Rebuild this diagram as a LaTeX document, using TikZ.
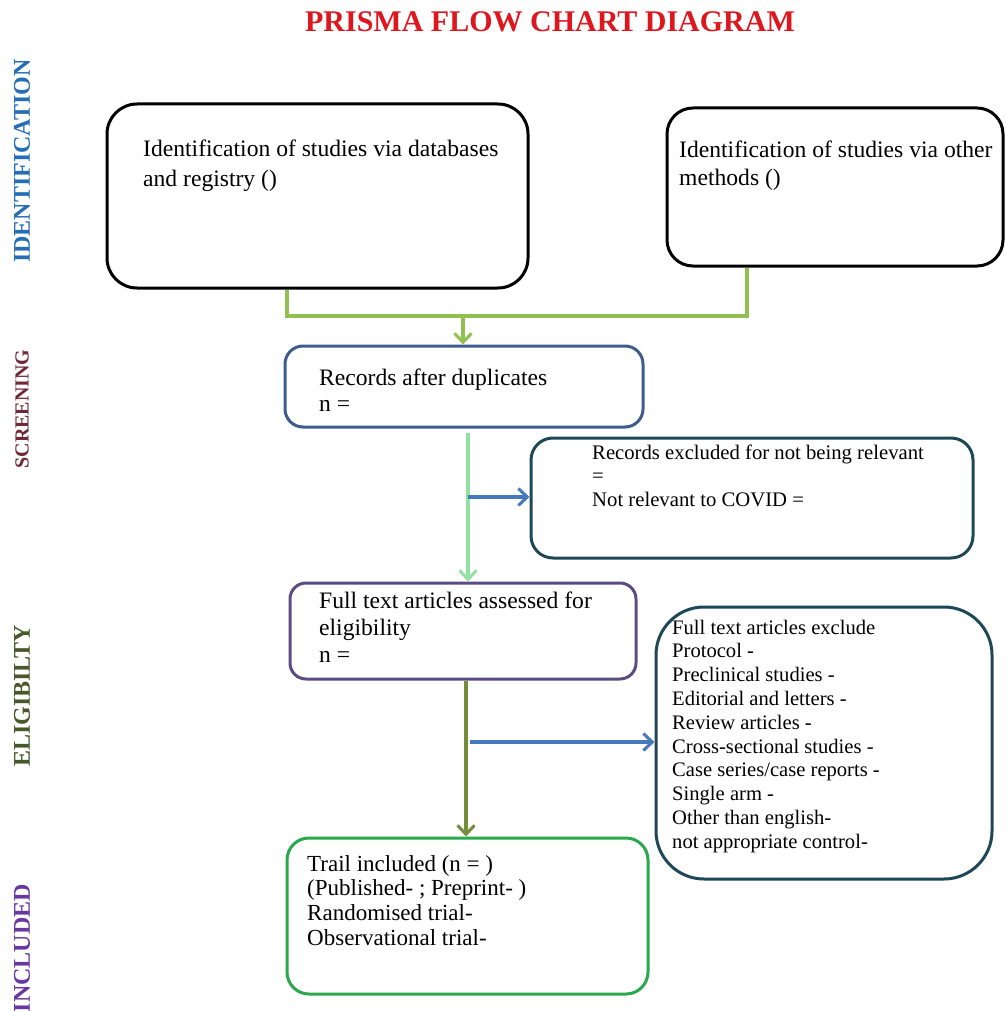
\documentclass[tikz,border=0pt]{standalone}
\usepackage{fontspec}
\setmainfont{Liberation Serif}
\usetikzlibrary{arrows.meta}
\definecolor{titlered}{RGB}{222,22,30}
\definecolor{labblue}{RGB}{38,110,180}
\definecolor{labmaroon}{RGB}{110,40,55}
\definecolor{labolive}{RGB}{72,88,40}
\definecolor{labpurple}{RGB}{105,55,160}
\definecolor{gconn}{RGB}{146,192,80}
\definecolor{mint}{RGB}{146,224,162}
\definecolor{barrow}{RGB}{70,120,190}
\definecolor{oarrow}{RGB}{115,142,58}
\definecolor{sblue}{RGB}{62,92,140}
\definecolor{steal}{RGB}{30,72,88}
\definecolor{spurple}{RGB}{92,76,132}
\definecolor{sgreen}{RGB}{42,168,76}
\begin{document}
\begin{tikzpicture}[x=1pt,y=-1pt,
  box/.style={draw, line width=3pt, inner sep=0pt},
  txt/.style={inner sep=0pt, anchor=base west, text=black},
  side/.style={rotate=90, inner sep=0pt, font=\fontsize{24}{28}\selectfont\bfseries},
  conn/.style={line width=3.2pt},
  tip/.style={-{Straight Barb[length=9pt,width=17pt,line width=3pt]}}
]
\useasboundingbox (0,0) rectangle (1005,1011);

% title
\node[inner sep=0pt, text=titlered, font=\fontsize{30}{34}\selectfont\bfseries] (title) at (550,22) {PRISMA FLOW CHART DIAGRAM};

% side labels
\node[side, text=labblue] (lid) at (22,161) {IDENTIFICATION};
\node[side, text=labmaroon, font=\fontsize{20}{24}\selectfont\bfseries] (lsc) at (22,409) {SCREENING};
\node[side, text=labolive] (lel) at (22,696) {ELIGIBILTY};
\node[side, text=labpurple] (lin) at (22,948) {INCLUDED};

% boxes
\node[box, draw=black, rounded corners=30pt, minimum width=421pt, minimum height=184pt] (b1) at (317.5,196) {};
\node[box, draw=black, rounded corners=26pt, minimum width=336pt, minimum height=158pt] (b2) at (835,187) {};
\node[box, draw=sblue, rounded corners=18pt, minimum width=358pt, minimum height=81pt] (b3) at (464,386.5) {};
\node[box, draw=steal, rounded corners=22pt, minimum width=442pt, minimum height=120pt] (b4) at (752,498) {};
\node[box, draw=spurple, rounded corners=16pt, minimum width=346pt, minimum height=96pt] (b5) at (463,631) {};
\node[box, draw=steal, rounded corners=48pt, minimum width=336pt, minimum height=272pt] (b6) at (824,743) {};
\node[box, draw=sgreen, rounded corners=22pt, minimum width=361pt, minimum height=156pt] (b7) at (467.5,916) {};

% texts
\node[txt] (t1) at (143,157) {\parbox[t]{420pt}{\fontsize{23.6}{30}\selectfont Identification of studies via databases\\and registry ()}};
\node[txt] (t2) at (679,158) {\parbox[t]{420pt}{\fontsize{23.6}{28}\selectfont Identification of studies via other\\methods ()}};
\node[txt] (t3) at (319,385) {\parbox[t]{420pt}{\fontsize{23.6}{26}\selectfont Records after duplicates\\n =}};
\node[txt] (t4) at (592,459) {\parbox[t]{420pt}{\fontsize{20.7}{23.5}\selectfont Records excluded for not being relevant\\=\\Not relevant to COVID =}};
\node[txt] (t5) at (319,608) {\parbox[t]{420pt}{\fontsize{23.6}{27}\selectfont Full text articles assessed for\\eligibility\\n =}};
\node[txt] (t6) at (672,634) {\parbox[t]{420pt}{\fontsize{20.6}{23.8}\selectfont Full text articles exclude\\Protocol -\\Preclinical studies -\\Editorial and letters -\\Review articles -\\Cross-sectional studies -\\Case series/case reports -\\Single arm -\\Other than english-\\not appropriate control-}};
\node[txt] (t7) at (307,871) {\parbox[t]{420pt}{\fontsize{23}{24.7}\selectfont Trail included (n = )\\(Published- ; Preprint- )\\Randomised trial-\\Observational trial-}};

% connectors
\coordinate (jL) at (287,316);
\coordinate (jR) at (747,316);
\coordinate (jM) at (463,316);
\draw[conn, gconn] (b1.south -| jL) -- (jL) -- (jR) -- (b2.south -| jR);
\draw[conn, gconn, tip] (jM) -- (b3.north -| jM);

\coordinate (m0) at (468,433);
\coordinate (m1) at (468,497);
\draw[conn, mint, tip] (m0) -- (b5.north -| m0);
\draw[conn, barrow, tip] (m1) -- (b4.west |- m1);

\coordinate (o0) at (466,742);
\coordinate (o1) at (470,742);
\draw[conn, oarrow, tip] (b5.south -| o0) -- (b7.north -| o0);
\draw[conn, barrow, tip] (o1) -- (b6.west |- o1);
\end{tikzpicture}
\end{document}
